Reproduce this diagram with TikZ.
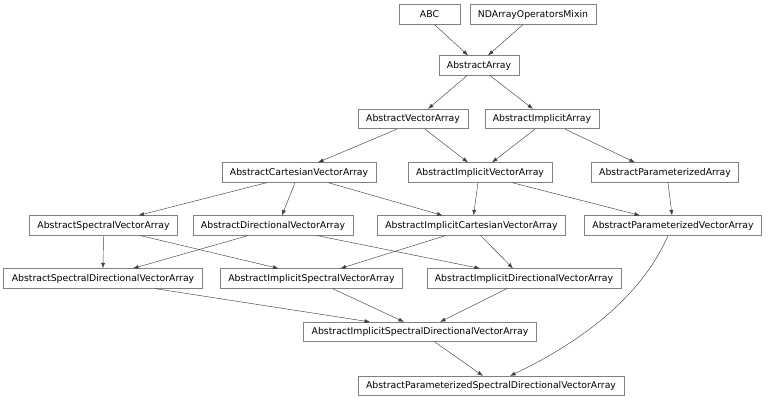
\documentclass[tikz,border=0pt]{standalone}
\usepackage{fontspec}
\setmainfont{DejaVu Sans}
\usepackage{xcolor}
\usetikzlibrary{arrows.meta}

\definecolor{boxline}{HTML}{808080}
\definecolor{edgeline}{HTML}{404040}

\begin{document}
\begin{tikzpicture}[x=1pt, y=-1pt,
  cls/.style={draw=boxline, line width=0.7pt, minimum height=19.5pt, inner xsep=8pt, inner ysep=2pt, font=\fontsize{9.3}{11}\selectfont},
  inh/.style={draw=edgeline, line width=0.45pt, -{Latex[length=5.5pt, width=4pt]}}]
  \useasboundingbox (0,0) rectangle (768,400);
  % rank 0
  \node[cls, minimum width=61pt] (abc) at (429.5,14.5) {ABC};
  \node[cls] (mixin) at (533,14.5) {NDArrayOperatorsMixin};
  % rank 1
  \node[cls] (arr) at (479,65.5) {AbstractArray};
  % rank 2
  \node[cls] (vec) at (413,119) {AbstractVectorArray};
  \node[cls] (impl) at (542,119) {AbstractImplicitArray};
  % rank 3
  \node[cls] (cart) at (299,172.5) {AbstractCartesianVectorArray};
  \node[cls] (ivec) at (480,172.5) {AbstractImplicitVectorArray};
  \node[cls] (param) at (665,172.5) {AbstractParameterizedArray};
  % rank 4
  \node[cls] (spec) at (103.5,225.5) {AbstractSpectralVectorArray};
  \node[cls] (dir) at (273,225.5) {AbstractDirectionalVectorArray};
  \node[cls] (icart) at (471.5,225.5) {AbstractImplicitCartesianVectorArray};
  \node[cls] (pvec) at (673,225.5) {AbstractParameterizedVectorArray};
  % rank 5
  \node[cls] (sdir) at (103,278.5) {AbstractSpectralDirectionalVectorArray};
  \node[cls] (ispec) at (311.5,278.5) {AbstractImplicitSpectralVectorArray};
  \node[cls] (idir) at (524,278.5) {AbstractImplicitDirectionalVectorArray};
  % rank 6
  \node[cls] (isdir) at (420,332) {AbstractImplicitSpectralDirectionalVectorArray};
  % rank 7
  \node[cls] (psdir) at (491,386) {AbstractParameterizedSpectralDirectionalVectorArray};

  \draw[inh] ([xshift=5pt]abc.south) -- ([xshift=-11pt]arr.north);
  \draw[inh] ([xshift=-10pt]mixin.south) -- ([xshift=9pt]arr.north);
  \draw[inh] ([xshift=-12pt]arr.south) -- ([xshift=15pt]vec.north);
  \draw[inh] ([xshift=11pt]arr.south) -- ([xshift=-9pt]impl.north);
  \draw[inh] ([xshift=-16pt]vec.south) -- ([xshift=19pt]cart.north);
  \draw[inh] ([xshift=12pt]vec.south) -- ([xshift=-12pt]ivec.north);
  \draw[inh] ([xshift=-7pt]impl.south) -- ([xshift=12pt]ivec.north);
  \draw[inh] ([xshift=23pt]impl.south) -- ([xshift=-30pt]param.north);
  \draw[inh] ([xshift=-32pt]cart.south) -- ([xshift=35pt]spec.north);
  \draw[inh] ([xshift=-4pt]cart.south) -- ([xshift=9pt]dir.north);
  \draw[inh] ([xshift=29pt]cart.south) -- ([xshift=-29pt]icart.north);
  \draw[inh] ([xshift=-2pt]ivec.south) -- ([xshift=2pt]icart.north);
  \draw[inh] ([xshift=32pt]ivec.south) -- ([xshift=-33pt]pvec.north);
  \draw[inh] ([xshift=3pt]param.south) -- ([xshift=-1pt]pvec.north);
  \draw[inh] (spec.south) -- (sdir.north);
  \draw[inh] ([xshift=37pt]spec.south) -- ([xshift=-33pt]ispec.north);
  \draw[inh] ([xshift=-25pt]dir.south) -- ([xshift=30pt]sdir.north);
  \draw[inh] ([xshift=44pt]dir.south) -- ([xshift=-44pt]idir.north);
  \draw[inh] ([xshift=-26pt]icart.south) -- ([xshift=29pt]ispec.north);
  \draw[inh] ([xshift=9pt]icart.south) -- ([xshift=-11pt]idir.north);
  \draw[inh] ([xshift=52pt]sdir.south) -- ([xshift=-50pt]isdir.north);
  \draw[inh] ([xshift=21pt]ispec.south) -- ([xshift=-16pt]isdir.north);
  \draw[inh] ([xshift=-17pt]idir.south) -- ([xshift=20pt]isdir.north);
  \draw[inh] ([xshift=15pt]isdir.south) -- ([xshift=-8pt]psdir.north);
  \draw[inh] ([xshift=-5pt]pvec.south) .. controls (642,295) and (585,340) .. ([xshift=19pt]psdir.north);
\end{tikzpicture}
\end{document}
